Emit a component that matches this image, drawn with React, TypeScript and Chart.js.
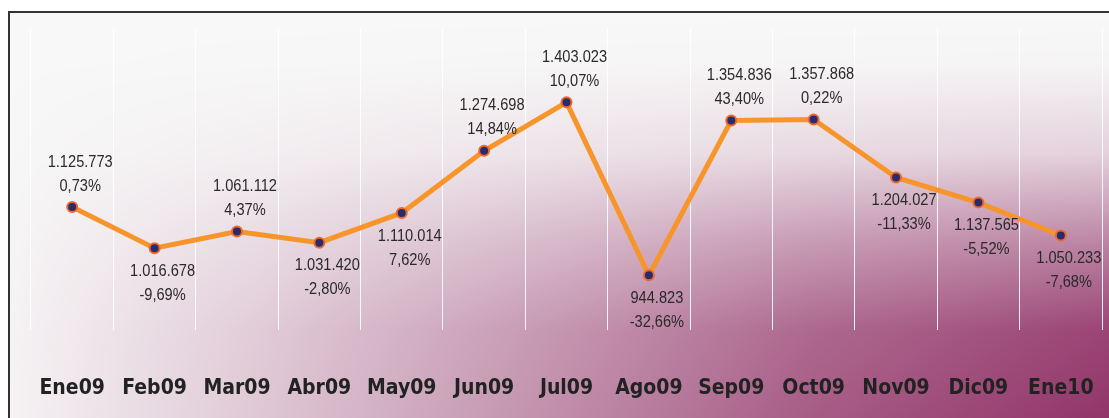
import React, { useEffect, useRef } from "react";
import { Chart, registerables } from "chart.js";

Chart.register(...registerables);

const categories = ["Ene09", "Feb09", "Mar09", "Abr09", "May09", "Jun09", "Jul09", "Ago09", "Sep09", "Oct09", "Nov09", "Dic09", "Ene10"];
const values = [1125773, 1016678, 1061112, 1031420, 1110014, 1274698, 1403023, 944823, 1354836, 1357868, 1204027, 1137565, 1050233];
const percents = [0.73, -9.69, 4.37, -2.8, 7.62, 14.84, 10.07, -32.66, 43.4, 0.22, -11.33, -5.52, -7.68];
const labelSide = ["above", "below", "above", "below", "below", "above", "above", "below", "above", "above", "below", "below", "below"];

const fmtValue = (v: number) => String(v).replace(/\B(?=(\d{3})+(?!\d))/g, ".");
const fmtPct = (p: number) => p.toFixed(2).replace(".", ",") + "%";

function lerp(stops: number[][], t: number) {
  if (t <= stops[0][0]) return stops[0][1];
  for (let i = 1; i < stops.length; i++) {
    if (t <= stops[i][0]) {
      const [x0, y0] = stops[i - 1];
      const [x1, y1] = stops[i];
      return y0 + ((t - x0) / (x1 - x0)) * (y1 - y0);
    }
  }
  return stops[stops.length - 1][1];
}

const bgPlugin = {
  id: "bgGrad",
  beforeDraw(chart: any) {
    const { ctx, width, height } = chart;
    if (!chart.$bgCanvas || chart.$bgCanvas.width !== width || chart.$bgCanvas.height !== height) {
      const off = document.createElement("canvas");
      off.width = width;
      off.height = height;
      const octx = off.getContext("2d")!;
      const img = octx.createImageData(width, height);
      const base = [248, 248, 248];
      const purple = [146, 53, 105];
      const fxStops = [[0, 0.03], [250, 0.25], [550, 0.55], [800, 0.8], [1099, 1.0]];
      const fyStops = [[0, 0], [50, 0.02], [140, 0.2], [230, 0.6], [317, 0.92], [405, 1.0]];
      const fx = new Float32Array(width);
      for (let x = 0; x < width; x++) fx[x] = lerp(fxStops, x);
      for (let y = 0; y < height; y++) {
        const fy = lerp(fyStops, y);
        for (let x = 0; x < width; x++) {
          const a = fx[x] * fy;
          const i = (y * width + x) * 4;
          img.data[i] = base[0] + (purple[0] - base[0]) * a;
          img.data[i + 1] = base[1] + (purple[1] - base[1]) * a;
          img.data[i + 2] = base[2] + (purple[2] - base[2]) * a;
          img.data[i + 3] = 255;
        }
      }
      octx.putImageData(img, 0, 0);
      chart.$bgCanvas = off;
    }
    ctx.save();
    ctx.setTransform(1, 0, 0, 1, 0, 0);
    ctx.drawImage(chart.$bgCanvas, 0, 0);
    ctx.restore();
  },
};

const labelPlugin = {
  id: "pointLabels",
  afterDatasetsDraw(chart: any) {
    const { ctx } = chart;
    const meta = chart.getDatasetMeta(0);
    ctx.save();
    ctx.font = "17px 'Liberation Sans', Arial, sans-serif";
    ctx.fillStyle = "#2a2a2a";
    ctx.textAlign = "center";
    ctx.textBaseline = "middle";
    meta.data.forEach((pt: any, i: number) => {
      const x = pt.x + 8;
      const above = labelSide[i] === "above";
      const y1 = above ? pt.y - 45 : pt.y + 23;
      const y2 = above ? pt.y - 21 : pt.y + 47;
      [[fmtValue(values[i]), y1], [fmtPct(percents[i]), y2]].forEach(([t, y]: any) => {
        ctx.save();
        ctx.translate(x, y);
        ctx.scale(0.86, 1);
        ctx.fillText(t, 0, 0);
        ctx.restore();
      });
    });
    ctx.restore();
  },
};

export default function App() {
  const ref = useRef<HTMLCanvasElement>(null);
  useEffect(() => {
    const chart = new Chart(ref.current!, {
      type: "line",
      data: {
        labels: categories,
        datasets: [
          {
            data: values,
            borderColor: "#f7952a",
            borderWidth: 5,
            pointRadius: 5,
            pointBorderWidth: 2,
            pointBackgroundColor: "#2b2a6c",
            pointBorderColor: "#ea6a2c",
            tension: 0,
          },
        ],
      },
      options: {
        responsive: false,
        animation: false,
        layout: { padding: { left: 21, top: 15, right: 6, bottom: 0 } },
        plugins: { legend: { display: false }, tooltip: { enabled: false } },
        scales: {
          x: {
            offset: true,
            grid: { color: "rgba(255,255,255,0.9)", lineWidth: 1, drawTicks: false, offset: true },
            border: { display: false },
            ticks: {
              color: "#222",
              padding: 46,
              font: { family: "'DejaVu Sans Condensed', 'DejaVu Sans', sans-serif", weight: "bold", size: 21 },
            },
            afterFit(scale: any) {
              scale.height = 88;
              scale.paddingLeft = 0;
              scale.paddingRight = 0;
            },
          },
          y: { display: false, min: 800000, max: 1600000 },
        },
      },
      plugins: [bgPlugin, labelPlugin],
    } as any);
    return () => chart.destroy();
  }, []);
  return (
    <div
      style={{
        position: "absolute",
        left: 8,
        top: 11,
        width: 1101,
        height: 407,
        boxSizing: "border-box",
        borderTop: "2px solid #333",
        borderLeft: "2px solid #333",
        overflow: "hidden",
      }}
    >
      <canvas ref={ref} width={1099} height={405} style={{ display: "block" }} />
    </div>
  );
}
